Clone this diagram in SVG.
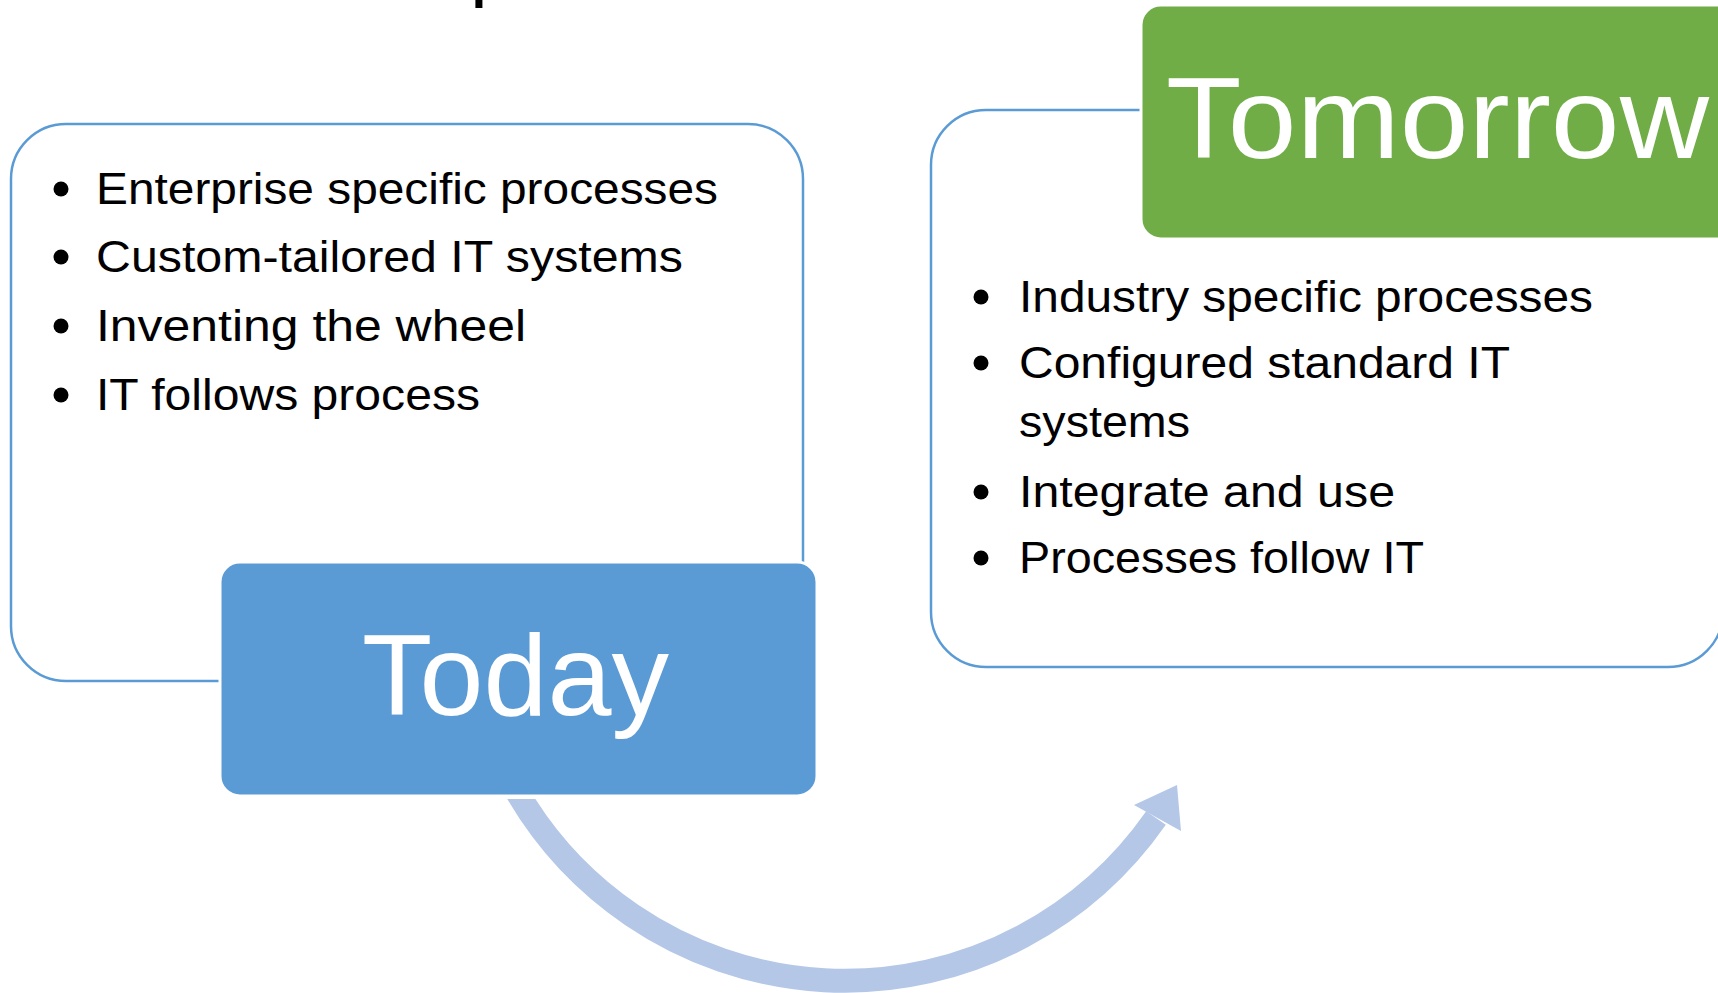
<svg xmlns="http://www.w3.org/2000/svg" width="1718" height="993" viewBox="0 0 1718 993">
<style>
.frame{fill:none;stroke:#5B9BD5;stroke-width:2.5}
.body{font-family:"Liberation Sans",Arial,sans-serif;font-size:44px;fill:#000}
.big{font-family:"Liberation Sans",Arial,sans-serif;font-size:115px;fill:#fff}
.bul{fill:#000}
</style>
<defs>
<clipPath id="arcclip"><rect x="0" y="799" width="1718" height="194"/></clipPath>
</defs>
<rect width="1718" height="993" fill="#fff"/>
<text class="body" x="470" y="-9" style="font-size:80px">p</text>

<g id="today-frame">
<rect class="frame" x="11" y="124" width="792" height="557" rx="55" ry="55"/>
<circle class="bul" cx="61" cy="189" r="7.5"/>
<text class="body" x="96" y="204" textLength="622" lengthAdjust="spacingAndGlyphs">Enterprise specific processes</text>
<circle class="bul" cx="61" cy="257" r="7.5"/>
<text class="body" x="96" y="272" textLength="587" lengthAdjust="spacingAndGlyphs">Custom-tailored IT systems</text>
<circle class="bul" cx="61" cy="326" r="7.5"/>
<text class="body" x="96" y="341" textLength="430" lengthAdjust="spacingAndGlyphs">Inventing the wheel</text>
<circle class="bul" cx="61" cy="395" r="7.5"/>
<text class="body" x="96" y="410" textLength="384" lengthAdjust="spacingAndGlyphs">IT follows process</text>
</g>

<g id="today">
<rect x="220" y="562" width="597" height="234" rx="20" ry="20" fill="#5B9BD5" stroke="#fff" stroke-width="3"/>
<text class="big" x="362" y="715" textLength="307" lengthAdjust="spacingAndGlyphs">Today</text>
</g>

<g id="tomorrow-frame">
<rect class="frame" x="931" y="110" width="792" height="557" rx="55" ry="55"/>
<circle class="bul" cx="981" cy="297" r="7.5"/>
<text class="body" x="1019" y="312" textLength="574" lengthAdjust="spacingAndGlyphs">Industry specific processes</text>
<circle class="bul" cx="981" cy="363" r="7.5"/>
<text class="body" x="1019" y="378" textLength="491" lengthAdjust="spacingAndGlyphs">Configured standard IT</text>
<text class="body" x="1019" y="437" textLength="171" lengthAdjust="spacingAndGlyphs">systems</text>
<circle class="bul" cx="981" cy="492" r="7.5"/>
<text class="body" x="1019" y="507" textLength="376" lengthAdjust="spacingAndGlyphs">Integrate and use</text>
<circle class="bul" cx="981" cy="558" r="7.5"/>
<text class="body" x="1019" y="573" textLength="405" lengthAdjust="spacingAndGlyphs">Processes follow IT</text>
</g>

<g id="tomorrow">
<rect x="1141" y="5" width="620" height="234" rx="20" ry="20" fill="#70AD47" stroke="#fff" stroke-width="3"/>
<text class="big" x="1166" y="158" textLength="543" lengthAdjust="spacingAndGlyphs">Tomorrow</text>
</g>

<g id="connectors">
<path d="M 512 783 A 380 382 0 0 0 1156 818" fill="none" stroke="#B4C7E7" stroke-width="24" clip-path="url(#arcclip)"/>
<polygon points="1177,785 1134,805 1181,831" fill="#B4C7E7"/>
</g>
</svg>
